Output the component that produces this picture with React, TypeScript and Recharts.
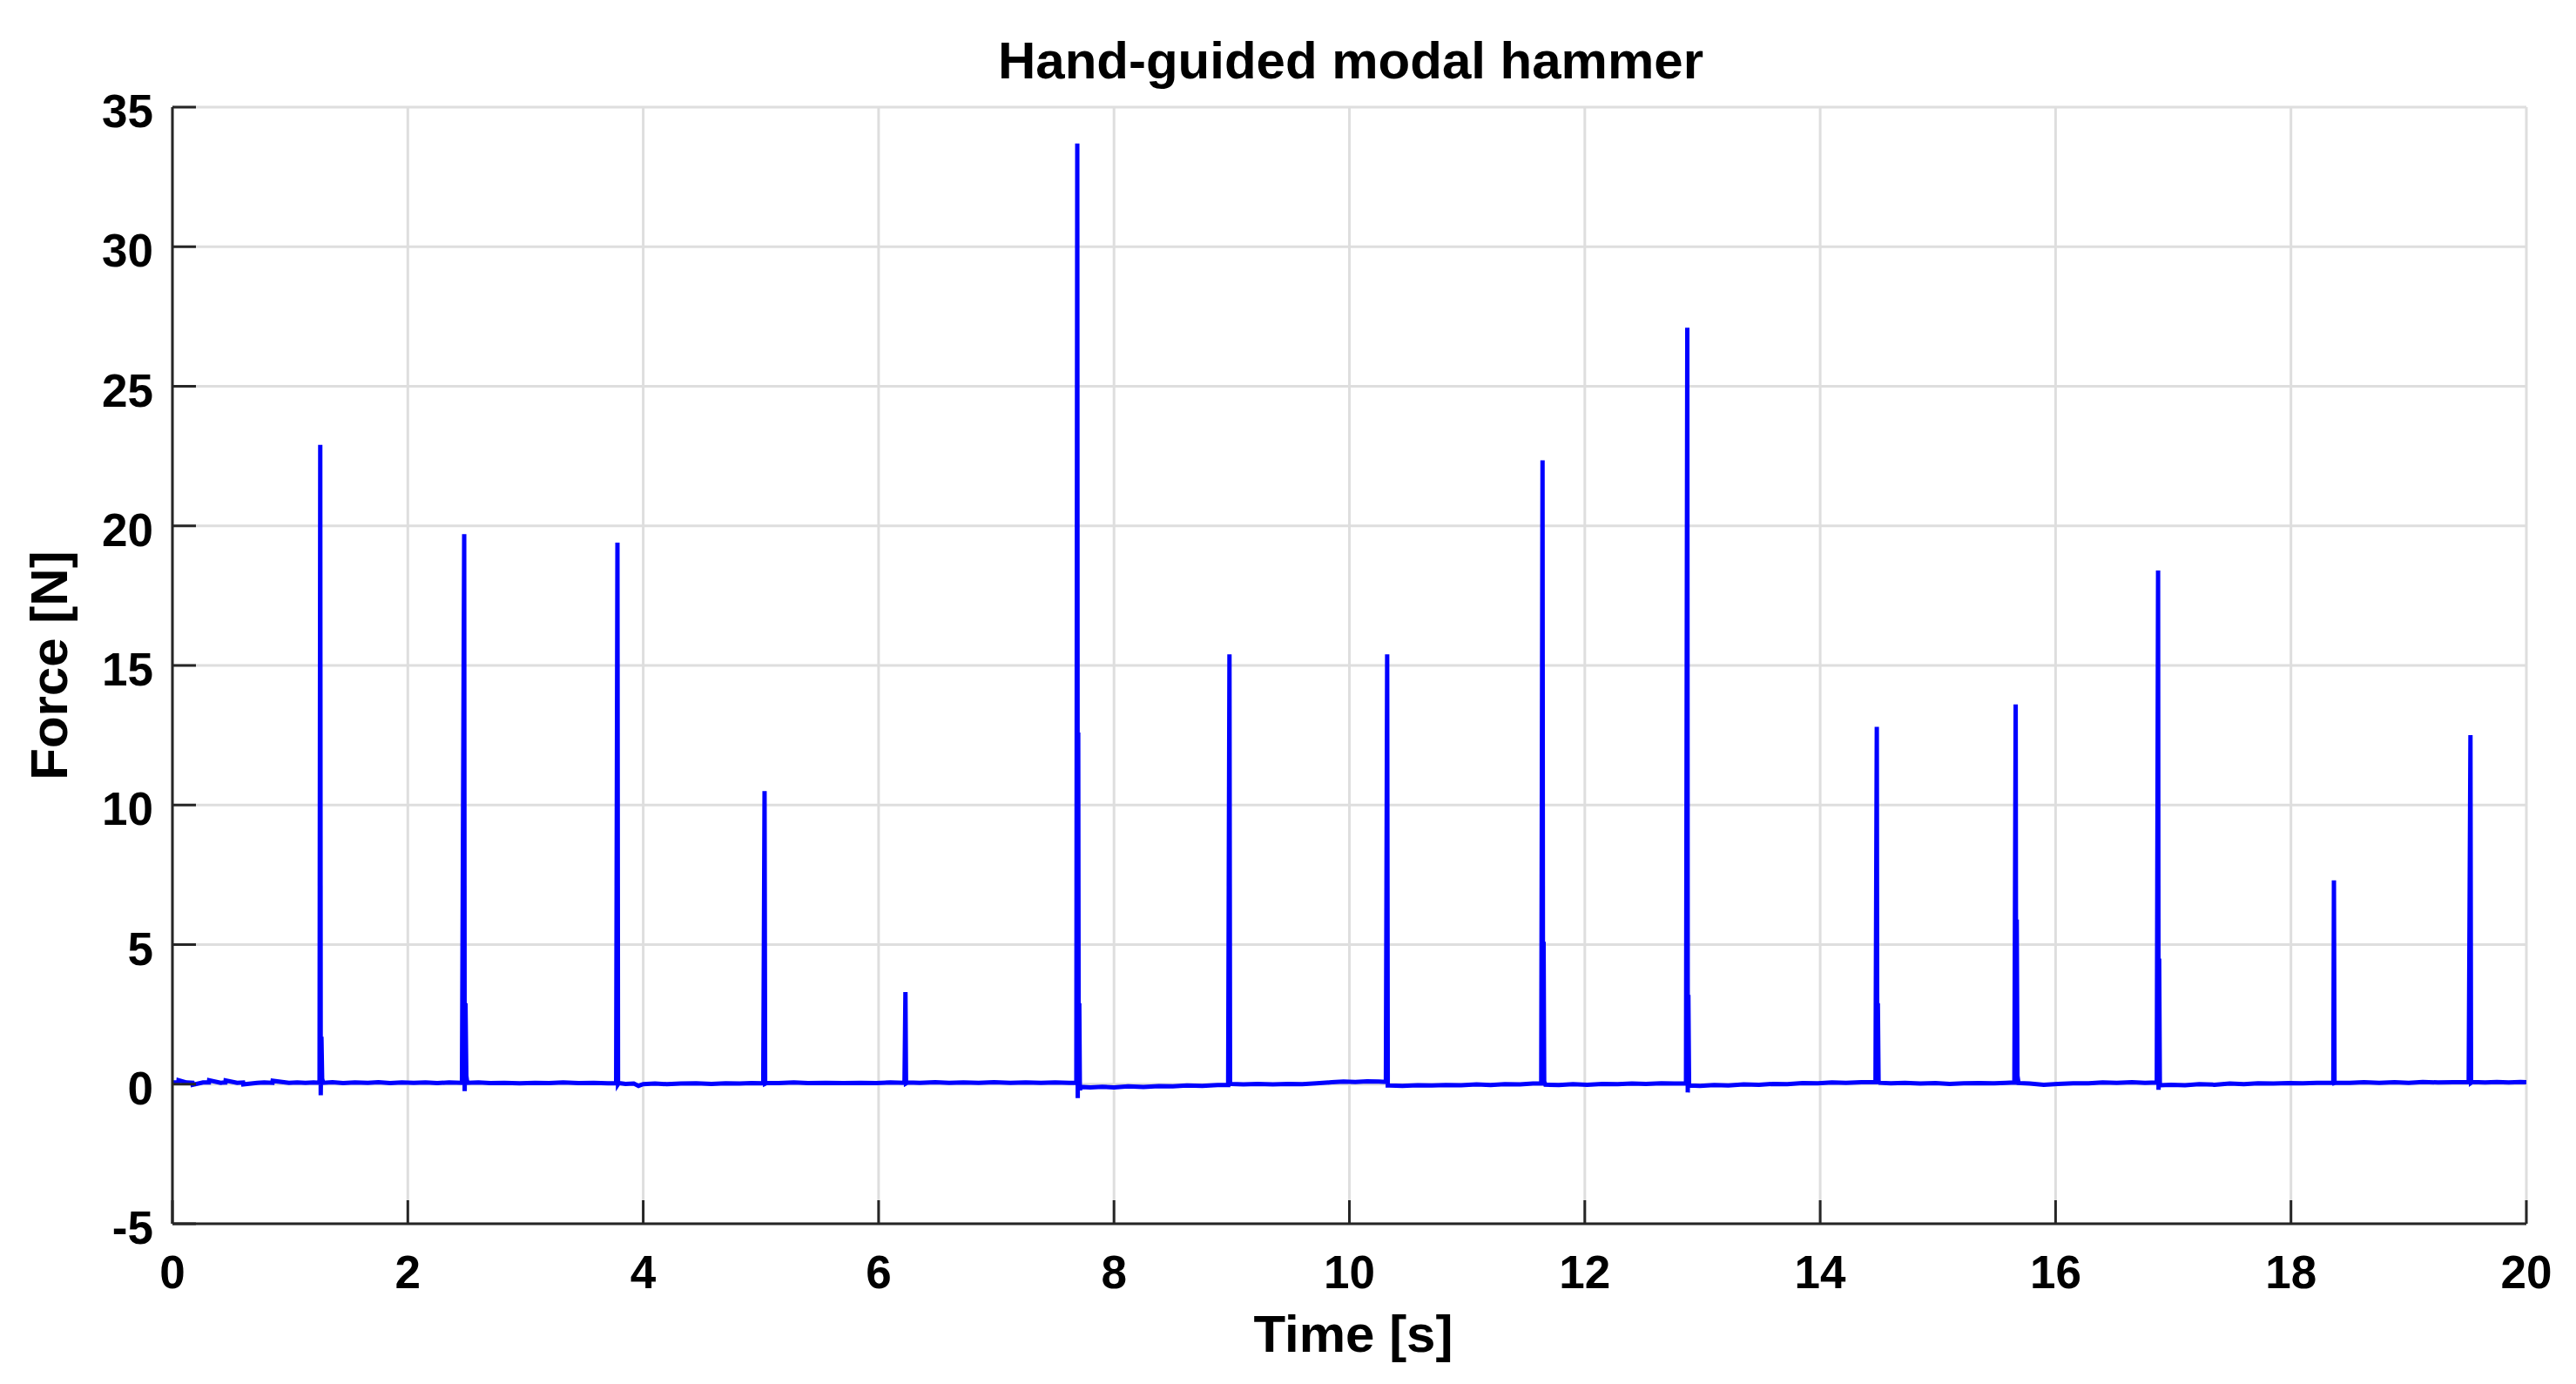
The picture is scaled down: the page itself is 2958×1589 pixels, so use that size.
import React from 'react';
import { LineChart, Line, XAxis, YAxis, CartesianGrid } from 'recharts';

const chartTitle = 'Hand-guided modal hammer';
const xLabel = 'Time [s]';
const yLabel = 'Force [N]';
const xTicks = [0, 2, 4, 6, 8, 10, 12, 14, 16, 18, 20];
const yTicks = [-5, 0, 5, 10, 15, 20, 25, 30, 35];

// time samples [s]
const timeS = [
  0.00, 0.05, 0.052, 0.12, 0.17, 0.172, 0.26, 0.31, 0.312, 0.41, 0.45, 0.452, 0.55, 0.60, 0.602, 0.72, 0.78, 0.85, 0.852, 0.99, 1.06, 1.13, 1.20, 1.250,
  1.256, 1.260, 1.266, 1.272, 1.280,
  1.36, 1.45, 1.55, 1.66, 1.75, 1.85, 1.95, 2.05, 2.15, 2.25, 2.35, 2.46,
  2.479, 2.483, 2.490, 2.497, 2.505,
  2.60, 2.70, 2.82, 2.95, 3.08, 3.20, 3.32, 3.45, 3.58, 3.70, 3.77,
  3.781, 3.786, 3.792,
  3.85, 3.92, 3.96, 4.00, 4.10, 4.20, 4.32, 4.45, 4.58, 4.70, 4.82, 4.92, 5.02,
  5.031, 5.036, 5.05,
  5.15, 5.28, 5.40, 5.55, 5.70, 5.85, 5.98, 6.10, 6.22,
  6.228, 6.233, 6.245,
  6.35, 6.48, 6.60, 6.72, 6.85, 6.98, 7.12, 7.25, 7.38, 7.50, 7.62, 7.68,
  7.688, 7.692, 7.696, 7.700, 7.705, 7.710, 7.72,
  7.80, 7.90, 8.00, 8.12, 8.25, 8.38, 8.50, 8.62, 8.75, 8.88, 8.97,
  8.981, 8.986, 8.995,
  9.10, 9.22, 9.35, 9.48, 9.60, 9.72, 9.85, 9.95, 10.05, 10.15, 10.25, 10.31,
  10.321, 10.326, 10.34,
  10.45, 10.58, 10.70, 10.82, 10.95, 11.08, 11.20, 11.32, 11.45, 11.56, 11.63,
  11.641, 11.645, 11.650, 11.655, 11.665,
  11.78, 11.90, 12.02, 12.15, 12.28, 12.40, 12.52, 12.65, 12.76, 12.86,
  12.871, 12.875, 12.880, 12.886, 12.895,
  12.98, 13.10, 13.22, 13.35, 13.48, 13.60, 13.72, 13.85, 13.98, 14.10, 14.22, 14.35, 14.47,
  14.481, 14.485, 14.490, 14.496, 14.505,
  14.60, 14.72, 14.85, 14.98, 15.10, 15.22, 15.35, 15.48, 15.58, 15.65,
  15.661, 15.665, 15.670, 15.676, 15.685,
  15.78, 15.90, 16.02, 16.15, 16.28, 16.40, 16.52, 16.65, 16.76, 16.86,
  16.871, 16.875, 16.880, 16.886, 16.895,
  16.98, 17.10, 17.22, 17.35, 17.48, 17.60, 17.72, 17.85, 17.98, 18.10, 18.22, 18.36,
  18.365, 18.370, 18.38,
  18.50, 18.62, 18.75, 18.88, 19.00, 19.12, 19.25, 19.38, 19.51,
  19.525, 19.530, 19.54,
  19.65, 19.75, 19.85, 19.95, 20.00,
];

// force samples [N]
const forceN = [
  0.06, 0.06, 0.14, 0.06, 0.05, -0.02, 0.06, 0.06, 0.14, 0.05, 0.06, 0.13, 0.05, 0.06, -0.01, 0.05, 0.06, 0.05, 0.12, 0.05, 0.06, 0.05, 0.06, 0.05,
  22.9, -0.4, 1.7, 0.2, 0.05,
  0.07, 0.04, 0.06, 0.05, 0.07, 0.04, 0.06, 0.05, 0.06, 0.04, 0.06, 0.05,
  19.7, -0.25, 2.9, 0.3, 0.05,
  0.06, 0.04, 0.05, 0.03, 0.05, 0.04, 0.06, 0.04, 0.05, 0.03, 0.04,
  19.4, 0.0, 0.04,
  0.01, 0.02, -0.06, 0.0, 0.02, 0.0, 0.02, 0.03, 0.01, 0.03, 0.02, 0.04, 0.03,
  10.5, 0.02, 0.05,
  0.04, 0.06, 0.04, 0.05, 0.04, 0.05, 0.04, 0.06, 0.05,
  3.3, 0.03, 0.06,
  0.05, 0.07, 0.05, 0.06, 0.05, 0.07, 0.05, 0.06, 0.05, 0.06, 0.05, 0.05,
  33.7, -0.5, 12.6, 0.1, 2.9, -0.2, -0.1,
  -0.12, -0.09, -0.12, -0.08, -0.10, -0.07, -0.08, -0.05, -0.06, -0.03, -0.03,
  15.4, 0.0, 0.01,
  -0.01, 0.01, -0.01, 0.01, 0.0, 0.03, 0.07, 0.09, 0.08, 0.10, 0.09, 0.08,
  15.4, -0.05, -0.05,
  -0.06, -0.04, -0.05, -0.03, -0.04, -0.01, -0.03, 0.0, -0.01, 0.02, 0.02,
  22.35, 0.0, 5.1, 0.1, -0.02,
  -0.03, 0.0, -0.02, 0.01, 0.0, 0.02, 0.01, 0.03, 0.02, 0.03,
  27.1, -0.3, 3.2, 0.0, -0.05,
  -0.06, -0.03, -0.05, -0.01, -0.02, 0.01, 0.0, 0.04, 0.03, 0.06, 0.05, 0.07, 0.07,
  12.8, 0.0, 2.9, 0.1, 0.05,
  0.03, 0.05, 0.02, 0.04, 0.01, 0.03, 0.04, 0.03, 0.05, 0.06,
  13.6, 0.1, 5.9, 0.3, 0.04,
  0.02, -0.02, 0.01, 0.03, 0.03, 0.06, 0.05, 0.07, 0.05, 0.06,
  18.4, -0.2, 4.5, 0.0, -0.04,
  -0.02, -0.04, 0.0, -0.02, 0.02, 0.0, 0.03, 0.02, 0.04, 0.03, 0.05, 0.05,
  7.3, 0.04, 0.05,
  0.05, 0.07, 0.05, 0.07, 0.05, 0.08, 0.06, 0.07, 0.07,
  12.5, 0.05, 0.08,
  0.06, 0.08, 0.06, 0.08, 0.07,
];

const data = timeS.map((t, i) => ({ t, f: forceN[i] }));

const FONT = '"Liberation Sans", Arial, Helvetica, sans-serif';
const AXIS = '#262626';
const GRID = '#dedede';
const TICK_LEN = 27;

const W = 2942;
const H = 1573;

function XTick(props: any) {
  const { x, y, payload } = props;
  return (
    <g>
      <line x1={x} x2={x} y1={y} y2={y - TICK_LEN} stroke={AXIS} strokeWidth={3} />
      <text x={x} y={y + 74} textAnchor="middle" fill="#000" fontSize={53} fontWeight="bold" fontFamily={FONT}>
        {payload.value}
      </text>
    </g>
  );
}

function YTick(props: any) {
  const { x, y, payload } = props;
  return (
    <g>
      <line x1={x} x2={x + TICK_LEN} y1={y} y2={y} stroke={AXIS} strokeWidth={3} />
      <text x={x - 22} y={y + 23} textAnchor="end" fill="#000" fontSize={53} fontWeight="bold" fontFamily={FONT}>
        {payload.value}
      </text>
    </g>
  );
}

export default function App() {
  return (
    <div style={{ position: 'relative', width: W, height: H, background: '#fff', fontFamily: FONT }}>
      <div
        style={{
          position: 'absolute', left: 1543 - 600, top: 62 - 35, width: 1200, textAlign: 'center',
          fontSize: 60, fontWeight: 'bold', color: '#000', lineHeight: '70px',
        }}
      >
        {chartTitle}
      </div>
      <LineChart
        width={W}
        height={H}
        data={data}
        margin={{ top: 115, right: 49, bottom: 76, left: 0 }}
      >
        <CartesianGrid stroke={GRID} strokeWidth={3} />
        <XAxis
          dataKey="t"
          type="number"
          domain={[0, 20]}
          ticks={xTicks}
          interval={0}
          height={100}
          allowDataOverflow
          axisLine={{ stroke: AXIS, strokeWidth: 3 }}
          tickLine={false}
          tickSize={0}
          tickMargin={0}
          tick={<XTick />}
        />
        <YAxis
          type="number"
          domain={[-5, 35]}
          ticks={yTicks}
          interval={0}
          width={190}
          allowDataOverflow
          axisLine={{ stroke: AXIS, strokeWidth: 3 }}
          tickLine={false}
          tickSize={0}
          tickMargin={0}
          tick={<YTick />}
        />
        <Line
          type="linear"
          dataKey="f"
          stroke="#0000ff"
          strokeWidth={5}
          dot={false}
          activeDot={false}
          isAnimationActive={false}
        />
      </LineChart>
      <div
        style={{
          position: 'absolute', left: 1546 - 300, top: 1524 - 35, width: 600, textAlign: 'center',
          fontSize: 60, fontWeight: 'bold', color: '#000', lineHeight: '70px',
        }}
      >
        {xLabel}
      </div>
      <div
        style={{
          position: 'absolute', left: 49 - 300, top: 756 - 35, width: 600, textAlign: 'center',
          fontSize: 60, fontWeight: 'bold', color: '#000', lineHeight: '70px',
          transform: 'rotate(-90deg)',
        }}
      >
        {yLabel}
      </div>
    </div>
  );
}
